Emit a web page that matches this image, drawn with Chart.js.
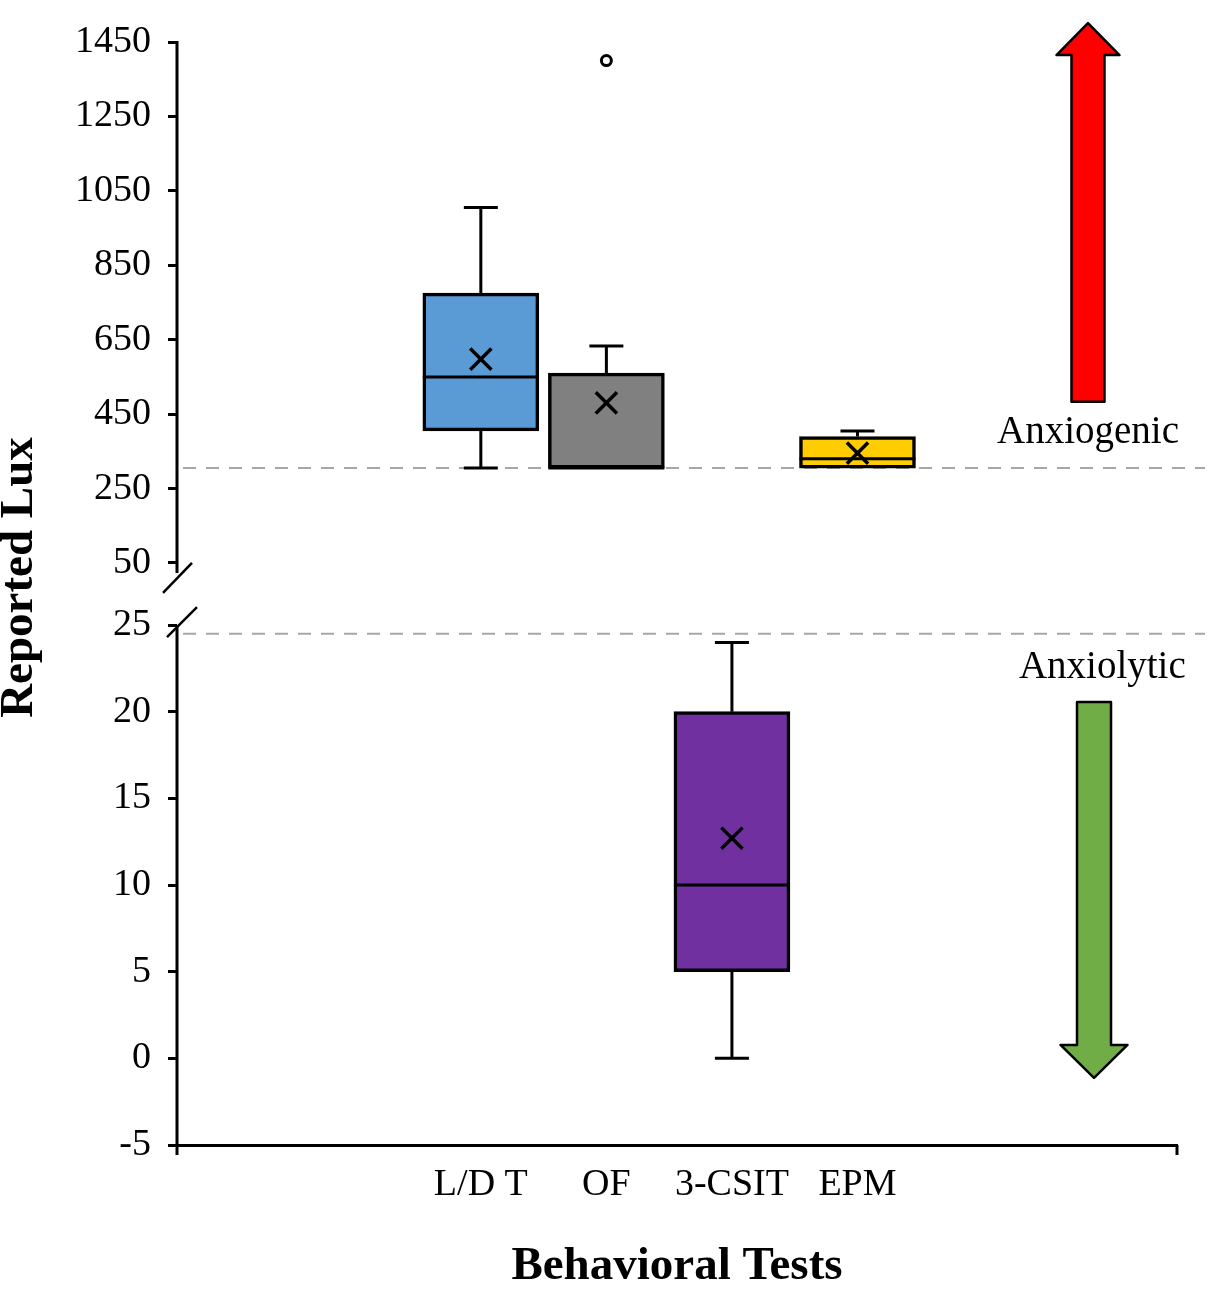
<!DOCTYPE html>
<html>
<head>
<meta charset="utf-8">
<title>Reported Lux by Behavioral Test</title>
<script src="https://cdn.jsdelivr.net/npm/chart.js@4.4.1/dist/chart.umd.min.js"></script>
<style>
  html, body { margin: 0; padding: 0; background: #fff; }
  #wrap { position: relative; width: 1219px; height: 1300px; }
</style>
</head>
<body>
<div id="wrap"><canvas id="luxChart"></canvas></div>
<script>
'use strict';

// box plot values (lux)
const tests = ['L/D T', 'OF', '3-CSIT', 'EPM'];
const panel = ['high', 'high', 'low', 'high'];   // which part of the broken axis
const whiskerMin = [305, 305, 0, 305];
const q1 = [405, 305, 5, 305];
const median = [550, 305, 10, 330];
const q3 = [775, 560, 20, 390];
const whiskerMax = [1005, 633, 24, 405];
const mean = [598, 480, 12.7, 345];
const outliers = [[], [1400], [], []];

const highTicks = [50, 250, 450, 650, 850, 1050, 1250, 1450];
const lowTicks = [-5, 0, 5, 10, 15, 20, 25];
const anxiogenicLine = 305;
const anxiolyticLine = 24.5;

const boxColors = ['#5B9BD5', '#808080', '#7030A0', '#FFCC00'];

const serif = "'Liberation Serif', 'Times New Roman', serif";
Chart.defaults.font.family = serif;
Chart.defaults.color = '#000';

function scaleId(i) {
  return panel[i] === 'high' ? 'yHigh' : 'yLow';
}

const boxDatasets = tests.map((name, i) => ({
  type: 'bar',
  label: name,
  data: [{ x: i, y: [q1[i], q3[i]] }],
  yAxisID: scaleId(i),
  backgroundColor: boxColors[i],
  borderColor: '#000',
  borderWidth: 3.5,
  borderSkipped: false,
  grouped: false,
  barThickness: 116,
  order: 2
}));

function pointsFor(which, values) {
  const pts = [];
  tests.forEach((t, i) => {
    if (panel[i] !== which) return;
    [].concat(values[i]).forEach(v => pts.push({ x: i, y: v }));
  });
  return pts;
}

const meanStyle = {
  type: 'scatter',
  pointStyle: 'crossRot',
  pointRadius: 15,
  pointBorderWidth: 3.5,
  borderColor: '#000',
  backgroundColor: 'rgba(0,0,0,0)',
  order: 0
};

const datasets = boxDatasets.concat([
  Object.assign({ label: 'mean', data: pointsFor('high', mean), yAxisID: 'yHigh' }, meanStyle),
  Object.assign({ label: 'mean', data: pointsFor('low', mean), yAxisID: 'yLow' }, meanStyle),
  {
    type: 'scatter',
    label: 'outliers',
    data: pointsFor('high', outliers),
    yAxisID: 'yHigh',
    pointStyle: 'circle',
    pointRadius: 5,
    pointBorderWidth: 3,
    borderColor: '#000',
    backgroundColor: '#fff',
    order: 0
  }
]);

// annotation marks (arrows and zone labels), placed in axis units
const arrows = [
  { scale: 'yHigh', x: 4.836, from: 483, to: 1501, shaftHalf: 16.5, headHalf: 31.5, headLen: 32, fill: '#FF0000' },
  { scale: 'yLow', x: 4.884, from: 20.56, to: -1.13, shaftHalf: 17, headHalf: 33.5, headLen: 33, fill: '#70AD47' }
];
const zoneLabels = [
  { scale: 'yHigh', x: 4.836, y: 372, text: 'Anxiogenic' },
  { scale: 'yLow', x: 4.95, y: 21.94, text: 'Anxiolytic' }
];

function line(ctx, x1, y1, x2, y2) {
  ctx.beginPath();
  ctx.moveTo(x1, y1);
  ctx.lineTo(x2, y2);
  ctx.stroke();
}

const boxParts = {
  id: 'boxParts',
  afterDatasetDraw(chart, args) {
    if (args.meta.type !== 'bar') return;
    const i = args.index;
    const bar = args.meta.data[0];
    if (!bar) return;
    const y = chart.scales[scaleId(i)];
    const ctx = chart.ctx;
    const x = bar.x, half = bar.width / 2, cap = 17;
    ctx.save();
    ctx.strokeStyle = '#000';
    ctx.lineWidth = 3;
    if (whiskerMax[i] > q3[i]) {
      line(ctx, x, y.getPixelForValue(q3[i]), x, y.getPixelForValue(whiskerMax[i]));
      line(ctx, x - cap, y.getPixelForValue(whiskerMax[i]), x + cap, y.getPixelForValue(whiskerMax[i]));
    }
    if (whiskerMin[i] < q1[i]) {
      line(ctx, x, y.getPixelForValue(q1[i]), x, y.getPixelForValue(whiskerMin[i]));
      line(ctx, x - cap, y.getPixelForValue(whiskerMin[i]), x + cap, y.getPixelForValue(whiskerMin[i]));
    }
    line(ctx, x - half, y.getPixelForValue(median[i]), x + half, y.getPixelForValue(median[i]));
    ctx.restore();
  }
};

const decorations = {
  id: 'decorations',
  beforeDatasetsDraw(chart) {
    const { ctx, chartArea } = chart;
    ctx.save();
    ctx.strokeStyle = '#A6A6A6';
    ctx.lineWidth = 2;
    ctx.setLineDash([13, 10]);
    const yh = chart.scales.yHigh.getPixelForValue(anxiogenicLine);
    const yl = chart.scales.yLow.getPixelForValue(anxiolyticLine);
    line(ctx, chartArea.left + 6, yh, chartArea.right + 28, yh);
    line(ctx, chartArea.left + 6, yl, chartArea.right + 28, yl);
    ctx.restore();
  },
  afterDraw(chart) {
    const { ctx, chartArea, scales } = chart;
    const yHigh = scales.yHigh, yLow = scales.yLow, xs = scales.x;
    const ax = chartArea.left;
    ctx.save();
    ctx.strokeStyle = '#000';
    ctx.lineWidth = 3;
    // broken y axis
    line(ctx, ax, yHigh.getPixelForValue(highTicks[highTicks.length - 1]) - 1, ax, yHigh.getPixelForValue(highTicks[0]) + 10);
    line(ctx, ax, yLow.getPixelForValue(lowTicks[lowTicks.length - 1]) + 2, ax, chartArea.bottom + 10);
    const b1 = yHigh.getPixelForValue(highTicks[0]) + 15;
    const b2 = yLow.getPixelForValue(lowTicks[lowTicks.length - 1]) - 3;
    ctx.lineWidth = 2.5;
    line(ctx, ax - 14, b1 + 15, ax + 15, b1 - 15);
    line(ctx, ax - 10, b2 + 15, ax + 20, b2 - 15);
    // x axis end tick
    ctx.lineWidth = 3;
    line(ctx, chartArea.right, chartArea.bottom, chartArea.right, chartArea.bottom + 10);

    // arrows
    arrows.forEach(a => {
      const s = scales[a.scale];
      const cx = xs.getPixelForValue(a.x);
      const yBase = s.getPixelForValue(a.from);
      const yTip = s.getPixelForValue(a.to);
      const dir = yTip < yBase ? -1 : 1;
      const yHead = yTip - dir * a.headLen;
      ctx.beginPath();
      ctx.moveTo(cx - a.shaftHalf, yBase);
      ctx.lineTo(cx - a.shaftHalf, yHead);
      ctx.lineTo(cx - a.headHalf, yHead);
      ctx.lineTo(cx, yTip);
      ctx.lineTo(cx + a.headHalf, yHead);
      ctx.lineTo(cx + a.shaftHalf, yHead);
      ctx.lineTo(cx + a.shaftHalf, yBase);
      ctx.closePath();
      ctx.fillStyle = a.fill;
      ctx.fill();
      ctx.lineJoin = 'round';
      ctx.lineWidth = 2.5;
      ctx.strokeStyle = '#000';
      ctx.stroke();
    });

    // zone labels
    ctx.fillStyle = '#000';
    ctx.font = '39px ' + serif;
    ctx.textAlign = 'center';
    ctx.textBaseline = 'alphabetic';
    zoneLabels.forEach(l => {
      ctx.fillText(l.text, xs.getPixelForValue(l.x), scales[l.scale].getPixelForValue(l.y));
    });

    // y axis title spanning both parts
    ctx.translate(20, yHigh.bottom - 16);
    ctx.rotate(-Math.PI / 2);
    ctx.font = 'bold 47px ' + serif;
    ctx.textBaseline = 'middle';
    ctx.fillText('Reported Lux', 0, 0);
    ctx.restore();
  }
};

function yAxis(min, max, tickValues) {
  return {
    type: 'linear',
    position: 'left',
    stack: 'lux',
    stackWeight: 1,
    bounds: 'data',
    min: min,
    max: max,
    afterBuildTicks: s => { s.ticks = tickValues.map(v => ({ value: v })); },
    afterFit: s => { s.width = 177; },
    ticks: { autoSkip: false, padding: 17, font: { size: 38 }, color: '#000', callback: v => String(v) },
    grid: { display: true, drawOnChartArea: false, drawTicks: true, tickLength: 9, tickWidth: 3, tickColor: '#000' },
    border: { display: false }
  };
}

new Chart(document.getElementById('luxChart'), {
  type: 'bar',
  data: { datasets: datasets },
  options: {
    responsive: true,
    maintainAspectRatio: false,
    animation: false,
    events: [],
    layout: { padding: { left: 0, right: 42, top: 42, bottom: 0 } },
    plugins: { legend: { display: false }, tooltip: { enabled: false } },
    scales: {
      x: {
        type: 'linear',
        offset: false,
        min: -2.42,
        max: 5.545,
        grid: { display: false, offset: false },
        border: { display: true, color: '#000', width: 3 },
        afterBuildTicks: s => { s.ticks = tests.map((t, i) => ({ value: i })); },
        afterFit: s => { s.height = 155; },
        ticks: {
          autoSkip: false, maxRotation: 0, minRotation: 0, padding: 9,
          font: { size: 38 }, color: '#000',
          callback: v => tests[v] !== undefined ? tests[v] : ''
        },
        title: {
          display: true,
          text: 'Behavioral Tests',
          color: '#000',
          font: { size: 47, weight: 'bold' },
          padding: { top: 20, bottom: 5 }
        }
      },
      yLow: yAxis(-5, 26.82, lowTicks),
      yHigh: yAxis(-32, 1450, highTicks)
    }
  },
  plugins: [boxParts, decorations]
});
</script>
</body>
</html>
